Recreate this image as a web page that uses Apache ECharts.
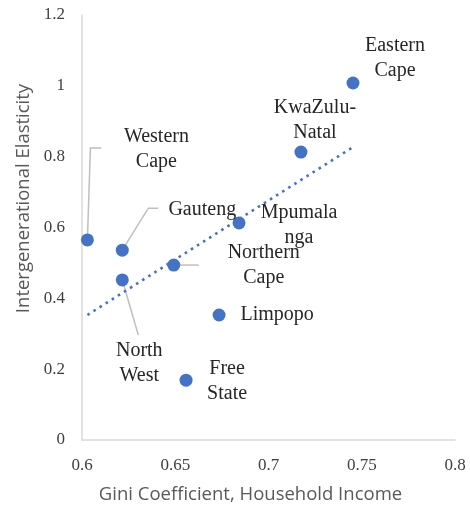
<!DOCTYPE html>
<html>
<head>
<meta charset="utf-8">
<script src="https://cdn.jsdelivr.net/npm/echarts@6/dist/echarts.min.js"></script>
<style>
html,body{margin:0;padding:0;background:#fff;}
#chart{width:470px;height:509px;}
</style>
</head>
<body>
<div id="chart"></div>
<script>
// ---- data ----
const provinces = ["Eastern\nCape", "KwaZulu-\nNatal", "Mpumala\nnga", "Western\nCape", "Gauteng", "Northern\nCape", "North\nWest", "Limpopo", "Free\nState"];
const gini = [0.7453, 0.7174, 0.6842, 0.6029, 0.6216, 0.6492, 0.6216, 0.6735, 0.6558];
const elasticity = [1.008, 0.813, 0.613, 0.565, 0.536, 0.494, 0.452, 0.353, 0.169];
const trendX = [0.6029, 0.7453];
const trendY = [0.353, 0.827];
const xTicks = {min: 0.6, max: 0.8, interval: 0.05};
const yTicks = {min: 0, max: 1.2, interval: 0.2};

// ---- layout (styling only) ----
const labelOffsets = [[42,-25],[14,-32],[60,2],[69,-91],[80,-40],[90,0],[17,83],[58,0],[41,1]];
const leaderOffsets = [null, null, null,
  [[0,0],[3,-92],[14,-92]],
  [[0,0],[26,-42],[36,-42]],
  [[0,0],[25,0]],
  [[0,0],[16,55]],
  null, null];

const blue = '#4472C4';
const serif = '"Liberation Serif", "DejaVu Serif", serif';
const sans = '"Open Sans", "Noto Sans", sans-serif';

const scatterData = provinces.map((p, i) => ({
  name: p,
  value: [gini[i], elasticity[i]]
}));

const chart = echarts.init(document.getElementById('chart'), null, {renderer: 'canvas'});
chart.setOption({
  animation: false,
  backgroundColor: '#fff',
  grid: {left: 82, right: 15, top: 15, bottom: 69, containLabel: false},
  xAxis: {
    type: 'value', min: xTicks.min, max: xTicks.max, interval: xTicks.interval,
    name: 'Gini Coefficient, Household Income',
    nameLocation: 'middle', nameGap: 45,
    nameTextStyle: {fontFamily: sans, fontSize: 18.5, color: '#595959', padding: [0, 36, 0, 0]},
    axisLine: {show: true, lineStyle: {color: '#d9d9d9', width: 1.5}},
    axisTick: {show: false},
    splitLine: {show: false},
    axisLabel: {fontFamily: serif, fontSize: 17, color: '#404040', margin: 17}
  },
  yAxis: {
    type: 'value', min: yTicks.min, max: yTicks.max, interval: yTicks.interval,
    name: 'Intergenerational Elasticity',
    nameLocation: 'middle', nameGap: 46,
    nameTextStyle: {fontFamily: sans, fontSize: 18.5, color: '#595959', padding: [0, 0, 0, 58]},
    axisLine: {show: true, lineStyle: {color: '#d9d9d9', width: 1.5}},
    axisTick: {show: false},
    splitLine: {show: false},
    axisLabel: {fontFamily: serif, fontSize: 17, color: '#404040', margin: 17}
  },
  series: [
    {
      type: 'custom',
      z: 1,
      silent: true,
      data: gini.map((g, i) => [g, elasticity[i], i]),
      renderItem: function (params, api) {
        const idx = api.value(2);
        const offs = leaderOffsets[idx];
        if (!offs) return null;
        const c = api.coord([api.value(0), api.value(1)]);
        return {
          type: 'polyline',
          shape: {points: offs.map(o => [c[0] + o[0], c[1] + o[1]])},
          style: {stroke: '#bfbfbf', lineWidth: 1.5, fill: null}
        };
      }
    },
    {
      type: 'line',
      z: 2,
      data: trendX.map((x, i) => [x, trendY[i]]),
      showSymbol: false,
      symbol: 'none',
      lineStyle: {color: blue, width: 2.6, type: [2.6, 4.6]},
      silent: true
    },
    {
      type: 'scatter',
      z: 3,
      symbolSize: 13,
      itemStyle: {color: blue, opacity: 1},
      data: scatterData,
      label: {
        show: true,
        position: 'inside',
        formatter: '{b}',
        align: 'center',
        verticalAlign: 'middle',
        fontFamily: serif,
        fontSize: 20,
        lineHeight: 25,
        color: '#262626'
      },
      labelLayout: function (params) {
        const o = labelOffsets[params.dataIndex];
        return {dx: o[0], dy: o[1], hideOverlap: false};
      }
    }
  ]
});
</script>
</body>
</html>
